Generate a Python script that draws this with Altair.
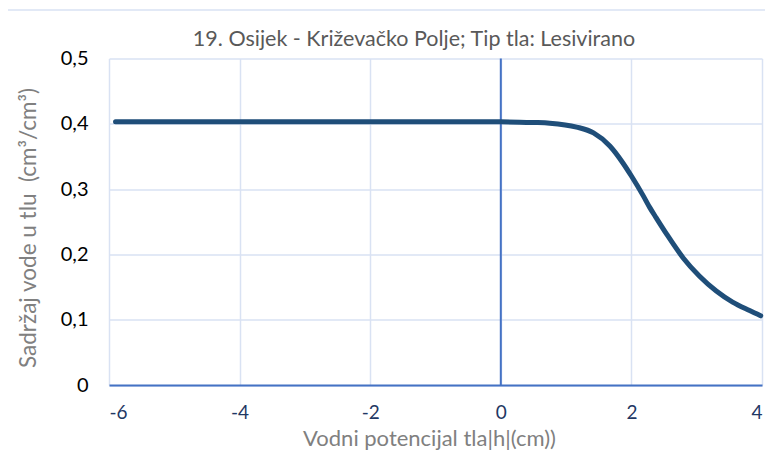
import altair as alt
import pandas as pd

# ---- data ----
h_log = [-5.9, -4.0, -2.0, 0.0, 0.5, 0.75, 1.16, 1.42, 1.67, 1.87, 2.0, 2.18, 2.28, 2.38, 2.54, 2.79, 3.04, 3.30, 3.55, 3.81, 3.98]
theta = [0.403, 0.403, 0.403, 0.403, 0.402, 0.401, 0.395, 0.386, 0.366, 0.340, 0.320, 0.290, 0.272, 0.256, 0.231, 0.195, 0.167, 0.144, 0.127, 0.114, 0.106]
x_ticks = [-6, -4, -2, 0, 2, 4]
y_ticks = [0, 0.1, 0.2, 0.3, 0.4, 0.5]
title_text = "19. Osijek - Križevačko Polje; Tip tla: Lesivirano"
x_title = "Vodni potencijal tla|h|(cm))"
y_title = "Sadržaj vode u tlu \u00a0(cm³/cm³)"

W, H = 653, 326.5
FONT = "Lato"
GRID = "#d9e2f3"
AXIS_BLUE = "#4472c4"

df = pd.DataFrame({"h": h_log, "theta": theta})

x_scale = alt.Scale(domain=[-6, 4], nice=False, zero=False)
y_scale = alt.Scale(domain=[0, 0.5], nice=False)

x_axis = alt.Axis(
    values=x_ticks, grid=True, gridColor=GRID, gridWidth=1.5,
    domainColor=AXIS_BLUE, domainWidth=2, ticks=False,
    labelColor="#1f3864", labelFont=FONT, labelFontSize=19, labelPadding=33,
    labelBaseline="alphabetic",
    labelExpr="'' + datum.value",
    title=x_title, titleFont=FONT, titleFontSize=22, titleFontWeight="normal",
    titleColor="#808080", titleBaseline="alphabetic", titleY=60.5, titleX=320,
)
y_axis = alt.Axis(
    values=y_ticks, grid=True, gridColor=GRID, gridWidth=1.5,
    domain=False, ticks=False,
    labelColor="#000000", labelFont=FONT, labelFontSize=20, labelPadding=21,
    labelExpr="datum.value == 0 ? '0' : replace(format(datum.value, '.1f'), '.', ',')",
    title=y_title, titleFont=FONT, titleFontSize=22.5, titleFontWeight="normal",
    titleColor="#808080", titleX=-81, titleY=169, titleBaseline="middle", titleAlign="center",
)

line = alt.Chart(df).mark_line(
    color="#1f4e79", strokeWidth=5, strokeCap="round", interpolate="monotone"
).encode(
    x=alt.X("h:Q", scale=x_scale, axis=x_axis),
    y=alt.Y("theta:Q", scale=y_scale, axis=y_axis),
)

zero_rule = alt.Chart(pd.DataFrame({"h": [0]})).mark_rule(
    color=AXIS_BLUE, strokeWidth=2
).encode(x=alt.X("h:Q", scale=x_scale))

title = alt.Chart(pd.DataFrame({"t": [title_text]})).mark_text(
    font=FONT, fontSize=21.5, color="#595959", align="center", baseline="alphabetic"
).encode(text="t:N", x=alt.value(305), y=alt.value(-12.5))

border_one = pd.DataFrame({"k": [0]})
border_left = alt.Chart(border_one).mark_rule(color=GRID, strokeWidth=1.5).encode(
    x=alt.value(-102), y=alt.value(-48.5), y2=alt.value(420)
)
border_top = alt.Chart(border_one).mark_rule(color=GRID, strokeWidth=1.5).encode(
    x=alt.value(-102), x2=alt.value(700), y=alt.value(-48.5)
)

chart = alt.layer(border_left, border_top, zero_rule, line, title).properties(
    width=W, height=H,
    autosize=alt.AutoSizeParams(type="none"),
    padding={"left": 101, "top": 50.5, "right": 3, "bottom": 65},
).configure_view(stroke=None)

chart.save("out.html", embed_options={"renderer": "svg", "actions": False})
